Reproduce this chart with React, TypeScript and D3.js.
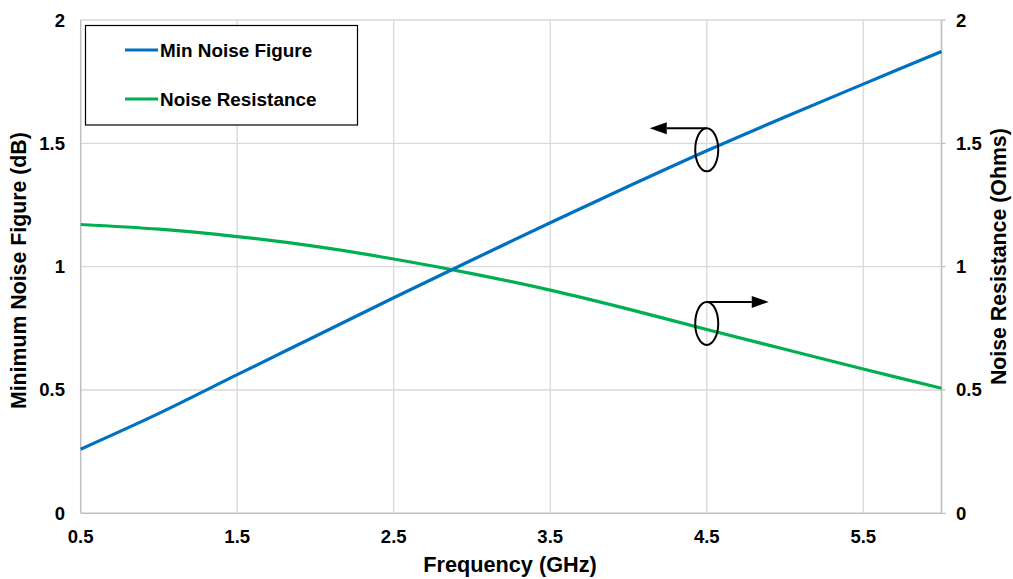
import React from 'react'
import * as d3 from 'd3'

// values
const freqGHz = [0.5, 1, 1.5, 2, 2.5, 3, 3.5, 4, 4.5, 5, 5.5, 6]
const minNoiseFigure = [0.26, 0.405, 0.562, 0.718, 0.874, 1.027, 1.178, 1.326, 1.47, 1.607, 1.74, 1.872]
const noiseResistance = [1.171, 1.152, 1.122, 1.082, 1.031, 0.972, 0.905, 0.828, 0.745, 0.665, 0.585, 0.507]

const xTicks = [0.5, 1.5, 2.5, 3.5, 4.5, 5.5]
const xGrid = [1.5, 2.5, 3.5, 4.5, 5.5, 6]
const yTicks = [0, 0.5, 1, 1.5, 2]

// annotation ellipses: [freq, value, arrow direction]
const callouts: [number, number, number][] = [
  [4.5, 1.474, -1],
  [4.5, 0.77, 1],
]

const W = 1013
const H = 579
const BLUE = '#0070C0'
const GREEN = '#00B050'
const FONT = 'Arial, "Liberation Sans", sans-serif'

export default function App() {
  const x = d3.scaleLinear().domain([0.5, 6]).range([80.7, 941.5])
  const y = d3.scaleLinear().domain([0, 2]).range([513.3, 20])

  const line = d3
    .line<number>()
    .x((_, i) => x(freqGHz[i]))
    .y((d) => y(d))
    .curve(d3.curveCatmullRom.alpha(0.5))

  const [x0, x1] = x.range()
  const [yb, yt] = y.range()

  return (
    <svg
      width={W}
      height={H}
      style={{ position: 'absolute', left: 0, top: 0, background: '#fff' }}
      fontFamily={FONT}
    >
      {/* gridlines */}
      {yTicks.filter((t) => t > 0).map((t) => (
        <line key={'h' + t} x1={x0} x2={x1} y1={y(t)} y2={y(t)} stroke="#d9d9d9" strokeWidth={1.3} />
      ))}
      {xGrid.map((t) => (
        <line key={'v' + t} x1={x(t)} x2={x(t)} y1={yt} y2={yb} stroke="#d9d9d9" strokeWidth={1.3} />
      ))}

      {/* axes */}
      <line x1={x0} x2={x0} y1={yt} y2={yb} stroke="#bfbfbf" strokeWidth={1.5} />
      <line x1={x1} x2={x1} y1={yt} y2={yb} stroke="#bfbfbf" strokeWidth={1.5} />
      <line x1={x0} x2={x1} y1={yb} y2={yb} stroke="#bfbfbf" strokeWidth={1.5} />
      {yTicks.map((t) => (
        <line key={'rt' + t} x1={x1} x2={x1 + 4} y1={y(t)} y2={y(t)} stroke="#bfbfbf" strokeWidth={1.3} />
      ))}

      {/* tick labels */}
      {yTicks.map((t) => (
        <text key={'yl' + t} x={65} y={y(t) + 6.5} textAnchor="end" fontSize={18.5} fontWeight="bold">
          {t}
        </text>
      ))}
      {yTicks.map((t) => (
        <text key={'yr' + t} x={956} y={y(t) + 6.5} textAnchor="start" fontSize={18.5} fontWeight="bold">
          {t}
        </text>
      ))}
      {xTicks.map((t) => (
        <text key={'xl' + t} x={x(t)} y={543} textAnchor="middle" fontSize={18.5} fontWeight="bold">
          {t}
        </text>
      ))}

      {/* axis titles */}
      <text x={510} y={572} textAnchor="middle" fontSize={21.7} fontWeight="bold">
        Frequency (GHz)
      </text>
      <text
        transform={`translate(26,${(yt + yb) / 2 + 4}) rotate(-90)`}
        textAnchor="middle"
        fontSize={21.3}
        fontWeight="bold"
      >
        Minimum Noise Figure (dB)
      </text>
      <text
        transform={`translate(1006,${(yt + yb) / 2 - 10}) rotate(-90)`}
        textAnchor="middle"
        fontSize={21.3}
        fontWeight="bold"
      >
        Noise Resistance (Ohms)
      </text>

      {/* series */}
      <path d={line(noiseResistance) || ''} fill="none" stroke={GREEN} strokeWidth={3.2} />
      <path d={line(minNoiseFigure) || ''} fill="none" stroke={BLUE} strokeWidth={3.2} />

      {/* axis callouts */}
      {callouts.map(([f, v, dir], i) => {
        const cx = x(f)
        const cy = y(v)
        const top = cy - 21.5
        const tip = dir < 0 ? cx - 57 : cx + 62
        const base = tip - dir * 17
        return (
          <g key={'c' + i}>
            <ellipse cx={cx} cy={cy} rx={11.5} ry={21.5} fill="none" stroke="#000" strokeWidth={2} />
            <line x1={cx} x2={base} y1={top} y2={top} stroke="#000" strokeWidth={2} />
            <path d={`M${tip},${top} L${base},${top - 6} L${base},${top + 6} Z`} fill="#000" />
          </g>
        )
      })}

      {/* legend */}
      <rect x={85.5} y={25.5} width={272} height={99.5} fill="#fff" stroke="#000" strokeWidth={1.2} />
      <line x1={125} x2={158} y1={50} y2={50} stroke={BLUE} strokeWidth={3.2} />
      <text x={160} y={56.5} fontSize={18.9} fontWeight="bold">
        Min Noise Figure
      </text>
      <line x1={125} x2={158} y1={99} y2={99} stroke={GREEN} strokeWidth={3.2} />
      <text x={160} y={106} fontSize={18.9} fontWeight="bold">
        Noise Resistance
      </text>
    </svg>
  )
}
